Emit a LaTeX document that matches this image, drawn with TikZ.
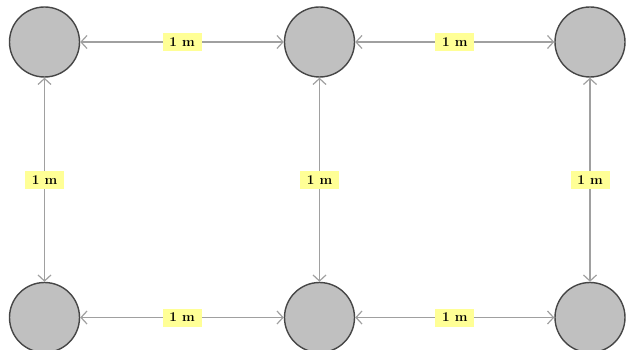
\documentclass[tikz,border=0pt]{standalone}
\usetikzlibrary{arrows.meta}
\definecolor{ballfill}{RGB}{192,192,192}
\definecolor{balledge}{RGB}{70,70,70}
\definecolor{linkgray}{RGB}{160,160,160}
\definecolor{tagyellow}{RGB}{255,255,150}
\tikzset{
  ball/.style={circle, draw=balledge, fill=ballfill, line width=1.4pt,
    minimum size=70pt, inner sep=0pt},
  link/.style={draw=linkgray, line width=1.2pt,
    {Straight Barb[length=6pt,width=13pt]}-{Straight Barb[length=6pt,width=13pt]}},
  tag/.style={fill=tagyellow, inner sep=0pt, minimum width=39pt, minimum height=18pt,
    font=\fontsize{13.5}{15}\selectfont\bfseries}
}
\begin{document}
\begin{tikzpicture}[x=1pt,y=-1pt]
  \useasboundingbox (0,0) rectangle (626,350);
  % grid of six balls
  \node[ball] (tl) at (44.5,42) {};
  \node[ball] (tm) at (319.5,42) {};
  \node[ball] (tr) at (590,42) {};
  \node[ball] (bl) at (44.5,317.5) {};
  \node[ball] (bm) at (319.5,317.5) {};
  \node[ball] (br) at (590,317.5) {};
  % spacing links
  \draw[link] (tl) -- node[tag] {1 m} (tm);
  \draw[link] (tm) -- node[tag] {1 m} (tr);
  \draw[link] (bl) -- node[tag] {1 m} (bm);
  \draw[link] (bm) -- node[tag] {1 m} (br);
  \draw[link] (tl) -- node[tag] {1 m} (bl);
  \draw[link] (tm) -- node[tag] {1 m} (bm);
  \draw[link] (tr) -- node[tag] {1 m} (br);
\end{tikzpicture}
\end{document}
